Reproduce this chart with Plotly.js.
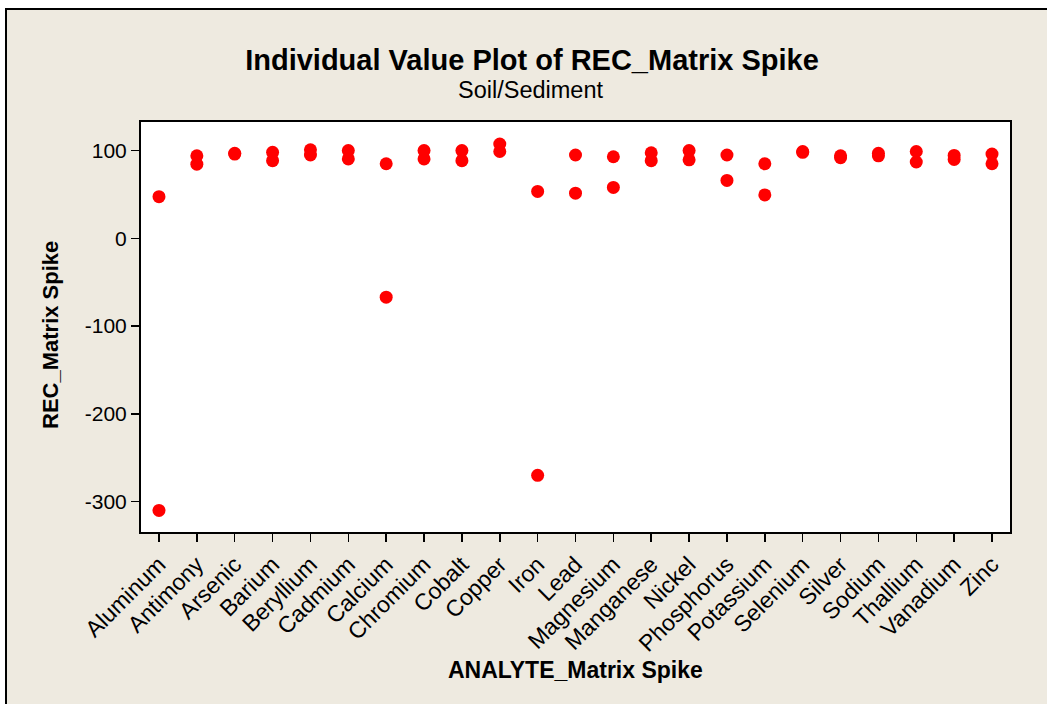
<!DOCTYPE html>
<html>
<head>
<meta charset="utf-8">
<script src="https://cdn.plot.ly/plotly-3.0.1.min.js"></script>
<style>
  html, body { margin: 0; padding: 0; background: #ffffff; width: 1047px; height: 704px; overflow: hidden; }
  #frame { position: absolute; left: 5px; top: 8px; width: 1042px; height: 696px;
           border-top: 2px solid #000; border-left: 2px solid #000; box-sizing: border-box; background: #EEEAE0; }
  #chart { width: 1040px; height: 694px; }
</style>
</head>
<body>
<div id="frame"><div id="chart"></div></div>
<script>
// Categories (analytes)
const analytes = ["Aluminum","Antimony","Arsenic","Barium","Beryllium","Cadmium","Calcium","Chromium",
  "Cobalt","Copper","Iron","Lead","Magnesium","Manganese","Nickel","Phosphorus","Potassium",
  "Selenium","Silver","Sodium","Thallium","Vanadium","Zinc"];
// Recovery values (two matrix spike results per analyte)
const recFirst  = [47.5, 94, 97, 98, 101, 100, 85, 100, 100, 107.5, 53.5, 95, 93, 97.5, 100, 95, 85, 99, 94, 97, 99, 94.5, 96];
const recSecond = [-310, 84.5, 96, 88.5, 95, 90.5, -67, 90.5, 88.5, 99, -270, 51.5, 58, 88.5, 89.5, 66, 49.5, 98, 92, 94, 87, 90, 85];
// Y tick values
const yTicks = [100, 0, -100, -200, -300];

const xs = analytes.concat(analytes);
const ys = recFirst.concat(recSecond);

const font = "Liberation Sans, Arial, sans-serif";

const trace = {
  type: "scatter", mode: "markers",
  x: xs, y: ys,
  marker: { color: "#FF0000", size: 13, line: { width: 0 } },
  hoverinfo: "x+y", cliponaxis: false
};

const layout = {
  width: 1040, height: 694,
  paper_bgcolor: "#EEEAE0", plot_bgcolor: "#FFFFFF",
  margin: { l: 134, r: 37, t: 112, b: 172 },
  showlegend: false,
  title: {
    text: "Individual Value Plot of REC_Matrix Spike",
    font: { family: font, size: 29, color: "#000", weight: "bold" },
    x: 525/1040, xanchor: "center", xref: "container",
    y: 1 - 50/694, yanchor: "middle", yref: "container"
  },
  annotations: [
    {
      text: "Soil/Sediment", showarrow: false,
      xref: "paper", yref: "paper", x: (523-134)/869, y: 1 + (112-80)/410, xanchor: "center", yanchor: "middle",
      font: { family: font, size: 23.5, color: "#000" }
    },
    {
      text: "ANALYTE_Matrix Spike", showarrow: false,
      xref: "paper", yref: "paper", x: 0.5, y: -(660-522)/410, xanchor: "center", yanchor: "middle",
      font: { family: font, size: 23, color: "#000", weight: "bold" }
    },
    {
      text: "REC_Matrix Spike", showarrow: false, textangle: -90,
      xref: "paper", yref: "paper", x: (43-134)/869, y: (522-325)/410, xanchor: "center", yanchor: "middle",
      font: { family: font, size: 22, color: "#000", weight: "bold" }
    }
  ],
  xaxis: {
    type: "category", categoryorder: "array", categoryarray: analytes,
    range: [-0.475, 22.475],
    showline: true, linecolor: "#000", linewidth: 2, mirror: true,
    showgrid: false, zeroline: false,
    ticks: "outside", ticklen: 8, tickwidth: 1.5, tickcolor: "#000",
    tickangle: -45,
    tickfont: { family: font, size: 23, color: "#000" }
  },
  yaxis: {
    range: [-334.6, 132.6],
    tickvals: yTicks, ticktext: yTicks.map(String),
    showline: true, linecolor: "#000", linewidth: 2, mirror: true,
    showgrid: false, zeroline: false,
    ticks: "outside", ticklen: 8, tickwidth: 1.5, tickcolor: "#000",
    tickfont: { family: font, size: 21, color: "#000" }
  }
};

Plotly.newPlot("chart", [trace], layout, { displayModeBar: false, staticPlot: true });
</script>
</body>
</html>
